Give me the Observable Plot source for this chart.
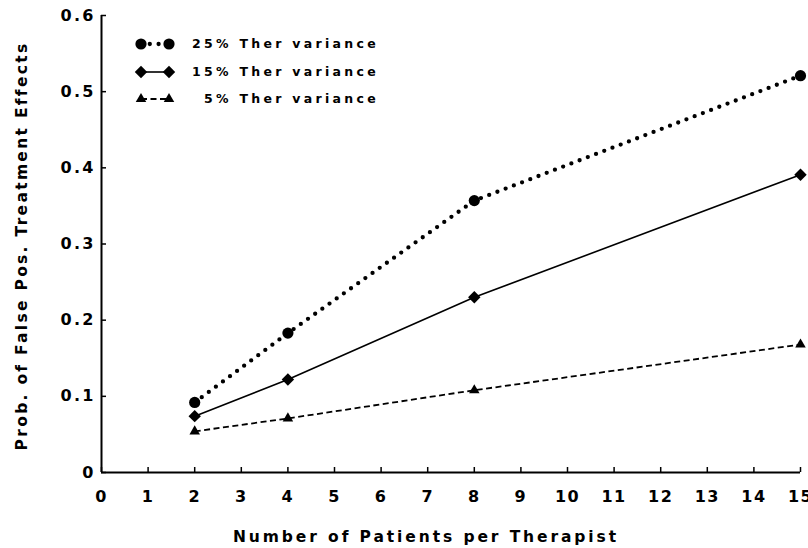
<!DOCTYPE html>
<html>
<head>
<meta charset="utf-8">
<script src="https://cdn.jsdelivr.net/npm/d3@7"></script>
<script src="https://cdn.jsdelivr.net/npm/@observablehq/plot@0.6"></script>
<style>
  html, body { margin: 0; padding: 0; background: #fff; }
  #chart svg { display: block; }
</style>
</head>
<body>
<div id="chart"></div>
<script>
// ---- data ----
const patients = [2, 4, 8, 15];
const seriesLabels = ["25% Ther variance", "15% Ther variance", "5% Ther variance"];
const var25 = [0.092, 0.183, 0.357, 0.521];
const var15 = [0.074, 0.122, 0.230, 0.391];
const var5  = [0.054, 0.071, 0.108, 0.168];
const xTicks = [0, 1, 2, 3, 4, 5, 6, 7, 8, 9, 10, 11, 12, 13, 14, 15];
const yTicks = [0, 0.1, 0.2, 0.3, 0.4, 0.5, 0.6];
const xLabel = "Number of Patients per Therapist";
const yLabel = "Prob. of False Pos. Treatment Effects";

const toRows = (vals) => patients.map((p, i) => ({x: p, y: vals[i]}));
const d25 = toRows(var25), d15 = toRows(var15), d5 = toRows(var5);

const styles = [
  {dash: "0 8.8", width: 4.3, cap: "round", symbol: "circle", r: 5.6},
  {dash: null, width: 1.6, cap: "butt", symbol: "diamond2", r: 5.6},
  {dash: "6 3.5", width: 1.8, cap: "butt", symbol: "triangle", r: 3.9}
];
const dataSets = [d25, d15, d5];

const font = "'DejaVu Sans', 'Liberation Sans', Arial, sans-serif";

const marks = [];
dataSets.forEach((d, i) => {
  const s = styles[i];
  marks.push(Plot.line(d, {x: "x", y: "y", stroke: "black", strokeWidth: s.width,
    strokeDasharray: s.dash, strokeLinecap: s.cap}));
});
dataSets.forEach((d, i) => {
  const s = styles[i];
  marks.push(Plot.dot(d, {x: "x", y: "y", symbol: () => s.symbol, r: s.r, fill: "black", stroke: "none"}));
});

const chart = Plot.plot({
  width: 808,
  height: 548,
  marginLeft: 101,
  marginRight: 8,
  marginTop: 15,
  marginBottom: 76,
  style: {fontFamily: font, background: "white", overflow: "visible"},
  symbol: {type: "identity"},
  x: {domain: [0, 15]},
  y: {domain: [0, 0.6]},
  marks: [
    Plot.axisX({ticks: xTicks, tickSize: -5, tickPadding: 23, tickFormat: d => String(d),
      fontSize: 16, fontWeight: "bold", label: null, strokeWidth: 1.5}),
    Plot.axisY({ticks: yTicks, tickSize: -5, tickPadding: 11, tickFormat: d => d === 0 ? "0" : d.toFixed(1),
      fontSize: 16, fontWeight: "bold", label: null, strokeWidth: 1.5}),
    Plot.ruleX([0], {strokeWidth: 2}),
    Plot.ruleY([0], {strokeWidth: 2}),
    ...marks
  ]
});

document.getElementById("chart").appendChild(chart);

const svg = d3.select(chart);
svg.selectAll("g[aria-label='x-axis tick label'] text")
  .style("letter-spacing", "1.5px");
svg.selectAll("g[aria-label='y-axis tick label'] text")
  .style("letter-spacing", "2.2px");

// axis titles
svg.append("text")
  .attr("x", 426).attr("y", 537)
  .attr("text-anchor", "middle")
  .attr("dominant-baseline", "middle")
  .style("font-family", font).style("font-weight", "bold").style("font-size", "15.5px")
  .style("letter-spacing", "2.9px")
  .text(xLabel);

svg.append("text")
  .attr("transform", "translate(22,246) rotate(-90)")
  .attr("text-anchor", "middle")
  .attr("dominant-baseline", "middle")
  .style("font-family", font).style("font-weight", "bold").style("font-size", "15.5px")
  .style("letter-spacing", "2.3px")
  .text(yLabel);

// legend
const legendRowsY = [44, 72, 99];
const lg = svg.append("g");
seriesLabels.forEach((lab, i) => {
  const s = styles[i];
  const yy = legendRowsY[i];
  lg.append("line").attr("x1", 141).attr("x2", 169).attr("y1", yy).attr("y2", yy)
    .attr("stroke", "black").attr("stroke-width", s.width)
    .attr("stroke-dasharray", s.dash).attr("stroke-linecap", s.cap);
  const sym = {circle: d3.symbolCircle, diamond2: d3.symbolDiamond2, triangle: d3.symbolTriangle}[s.symbol];
  [141, 169].forEach(xx => {
    lg.append("path").attr("d", d3.symbol(sym, s.r * s.r * Math.PI)())
      .attr("transform", `translate(${xx},${yy})`).attr("fill", "black");
  });
  lg.append("text").attr("x", 379).attr("y", yy).attr("text-anchor", "end")
    .attr("dominant-baseline", "middle")
    .style("font-family", font).style("font-weight", "bold").style("font-size", "12.5px")
    .style("letter-spacing", "3.3px")
    .text(lab);
});
</script>
</body>
</html>
